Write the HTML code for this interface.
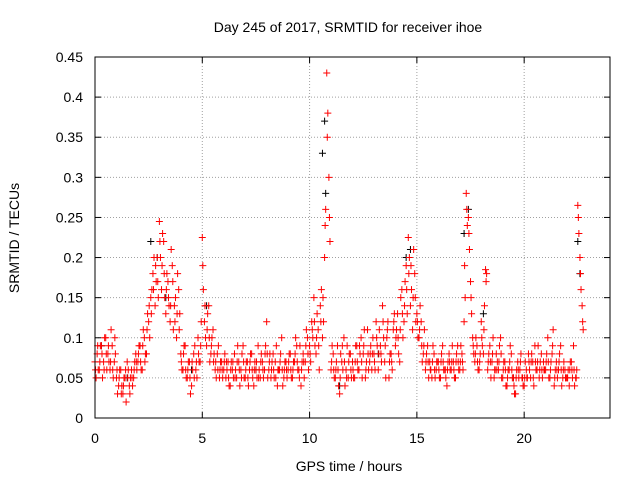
<!DOCTYPE html>
<html><head><meta charset="utf-8"><style>
body{margin:0;background:#fff}
svg{font-family:"Liberation Sans",sans-serif;font-size:14px}
</style></head><body>
<svg id="chart" width="640" height="480">
<text x="348" y="32" text-anchor="middle">Day 245 of 2017, SRMTID for receiver ihoe</text>
<text x="349" y="471" text-anchor="middle">GPS time / hours</text>
<text transform="translate(19,238) rotate(-90)" text-anchor="middle">SRMTID / TECUs</text>
<g id="grid"></g>
<g id="ticks"></g>
<g id="marks"></g>
<rect x="95" y="57" width="515" height="361" fill="none" stroke="#000"/>
</svg>
<script>
const xTicks=[0,5,10,15,20];
const yTicks=[0,0.05,0.1,0.15,0.2,0.25,0.3,0.35,0.4,0.45];
const yTickLabels=["0","0.05","0.1","0.15","0.2","0.25","0.3","0.35","0.4","0.45"];
const red1=[.07,.08,.06,.09,.07,.10,.08,.06,.09,.07,
.05,.04,.06,.03,.05,.07,.04,.06,.05,.08,
.07,.09,.06,.10,.08,.12,.15,.18,.14,.20,
.245,.16,.22,.13,.17,.12,.19,.14,.10,.16,
.08,.06,.09,.05,.07,.04,.08,.06,.10,.07,
.225,.12,.09,.14,.08,.11,.06,.08,.05,.07,
.06,.05,.07,.04,.06,.08,.05,.07,.06,.09,
.05,.07,.06,.08,.04,.06,.09,.05,.07,.06,
.12,.06,.05,.08,.07,.04,.06,.10,.05,.07,
.06,.08,.05,.07,.09,.06,.04,.08,.07,.10,
.09,.12,.15,.08,.11,.14,.10,.20,.43,.30,
.06,.08,.05,.09,.03,.07,.10,.06,.05,.08,
.07,.05,.09,.06,.10,.08,.05,.11,.07,.06,
.08,.12,.06,.09,.14,.07,.10,.05,.08,.11,
.09,.13,.07,.16,.12,.19,.225,.14,.11,.18,
.13,.10,.12,.08,.06,.09,.07,.05,.08,.06,
.07,.05,.09,.06,.04,.08,.06,.07,.05,.09,
.06,.08,.12,.28,.25,.17,.10,.07,.09,.06,
.12,.08,.185,.06,.09,.07,.05,.08,.06,.10,
.05,.07,.04,.06,.08,.05,.03,.07,.06,.05,
.04,.06,.08,.05,.07,.09,.06,.05,.08,.07,
.06,.10,.05,.08,.04,.07,.06,.09,.05,.06,
.05,.04,.07,.09,.05,.265,.20,.14];
const red2=[.05,.06,.09,.05,.10,.06,.07,.11,.05,.08,
.03,.06,.04,.05,.02,.06,.05,.04,.07,.06,
.09,.06,.11,.08,.13,.10,.16,.20,.17,.15,
.20,.23,.15,.18,.14,.21,.11,.15,.18,.13,
.06,.09,.05,.07,.03,.06,.09,.05,.07,.12,
.16,.10,.13,.07,.10,.08,.05,.09,.07,.05,
.08,.06,.04,.07,.05,.06,.09,.04,.08,.05,
.07,.04,.08,.05,.07,.05,.06,.08,.05,.09,
.05,.08,.07,.05,.09,.06,.08,.04,.07,.05,
.08,.05,.07,.10,.06,.09,.07,.05,.11,.06,
.07,.10,.09,.13,.06,.16,.12,.26,.38,.22,
.09,.05,.07,.04,.08,.06,.04,.09,.08,.05,
.05,.09,.06,.08,.05,.11,.07,.06,.09,.10,
.06,.09,.11,.07,.10,.05,.12,.08,.06,.13,
.11,.08,.15,.10,.17,.13,.20,.16,.21,.12,
.10,.14,.07,.11,.08,.05,.06,.09,.05,.07,
.05,.08,.06,.05,.07,.06,.09,.05,.08,.06,
.09,.06,.15,.24,.21,.13,.08,.10,.06,.08,
.09,.14,.18,.08,.05,.10,.06,.07,.09,.05,
.07,.04,.06,.09,.05,.03,.06,.05,.08,.04,
.07,.05,.06,.08,.04,.06,.09,.07,.05,.06,
.08,.05,.07,.11,.06,.05,.08,.04,.07,.05,
.06,.07,.05,.04,.06,.23,.16,.11];
const red3=[.06,.09,.07,.08,.06,.08,.09,.07,.06,.10,
.06,.05,.03,.04,.06,.05,.03,.05,.06,.07,
.08,.07,.09,.07,.11,.14,.13,.16,.19,.17,
.22,.19,.18,.16,.15,.14,.17,.12,.13,.11,
.07,.08,.06,.06,.05,.07,.05,.07,.08,.09,
.19,.14,.11,.10,.09,.07,.07,.06,.06,.06,
.07,.07,.05,.06,.07,.05,.07,.06,.05,.07,
.06,.05,.07,.06,.06,.07,.05,.07,.06,.08,
.08,.07,.06,.06,.05,.06,.07,.06,.06,.06,
.07,.06,.06,.08,.07,.05,.06,.07,.09,.08,
.08,.11,.12,.10,.09,.12,.15,.24,.35,.25,
.07,.06,.06,.06,.05,.09,.07,.05,.07,.06,
.06,.07,.07,.09,.07,.09,.06,.08,.08,.08,
.07,.10,.08,.08,.12,.09,.11,.07,.07,.12,
.10,.10,.11,.13,.14,.16,.18,.19,.15,.15,
.12,.11,.09,.09,.07,.07,.06,.07,.06,.07,
.06,.07,.07,.06,.06,.07,.07,.06,.07,.07,
.07,.07,.19,.26,.23,.15,.09,.08,.07,.07,
.10,.11,.17,.07,.07,.08,.06,.06,.07,.08,
.06,.06,.05,.07,.06,.04,.05,.06,.07,.05,
.05,.05,.07,.07,.05,.07,.07,.06,.06,.06,
.07,.07,.06,.09,.05,.06,.07,.06,.06,.05,
.05,.06,.06,.06,.05,.25,.18,.12];
const blackT=[0.3,1.5,2.6,2.9,3.3,4.5,5.2,7.5,10.6,10.7,10.75,11.4,13.2,14.5,14.7,17.2,17.4,18.1,19.5,22.5,22.6];
const blackV=[0.09,0.05,0.22,0.2,0.15,0.06,0.14,0.06,0.33,0.37,0.28,0.04,0.08,0.2,0.21,0.23,0.26,0.13,0.05,0.22,0.18];
const X=t=>95+t*515/24, Y=v=>418-v*361/0.45;
const NS="http://www.w3.org/2000/svg";
const grid=document.getElementById('grid'),ticks=document.getElementById('ticks'),marks=document.getElementById('marks');
function mk(tag,attrs,parent){const e=document.createElementNS(NS,tag);for(const k in attrs)e.setAttribute(k,attrs[k]);parent.appendChild(e);return e;}
xTicks.forEach(t=>{
 const l=mk('line',{x1:X(t),x2:X(t),y1:57,y2:418,stroke:'#a0a0a0','stroke-dasharray':'1,2'},grid);
 
 
 mk('line',{x1:X(t),x2:X(t),y1:418,y2:412,stroke:'#000'},ticks);
 mk('line',{x1:X(t),x2:X(t),y1:57,y2:63,stroke:'#000'},ticks);
 const tx=mk('text',{x:X(t),y:443,'text-anchor':'middle'},ticks);tx.textContent=t;
 
 
});
yTicks.forEach((v,i)=>{
 const l=mk('line',{x1:95,x2:610,y1:Y(v),y2:Y(v),stroke:'#a0a0a0','stroke-dasharray':'1,2'},grid);
 
 
 mk('line',{x1:95,x2:101,y1:Y(v),y2:Y(v),stroke:'#000'},ticks);
 mk('line',{x1:604,x2:610,y1:Y(v),y2:Y(v),stroke:'#000'},ticks);
 const tx=mk('text',{x:83,y:Y(v)+5,'text-anchor':'end'},ticks);tx.textContent=yTickLabels[i];
 
 
});
function plus(t,v,c){
 const x=X(t),y=Y(v);
 const p=mk('path',{d:`M${x-3.5},${y}h7M${x},${y-3.5}v7`,stroke:c,'stroke-width':1,fill:'none'},marks);
 
 
}
blackT.forEach((t,i)=>plus(t,blackV[i],'#000'));
red1.forEach((v,i)=>plus(i/10,v,'#f00'));
red2.forEach((v,i)=>plus(i/10+0.05,v,'#f00'));
red3.forEach((v,i)=>plus(i/10+0.025,v,'#f00'));
</script>
</body></html>
